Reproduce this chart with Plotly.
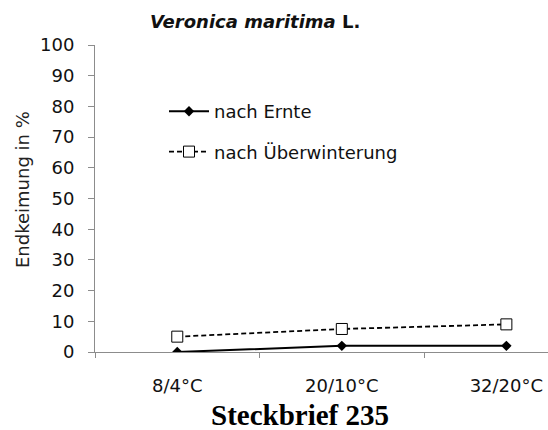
import plotly.graph_objects as go

categories = ["8/4°C", "20/10°C", "32/20°C"]
nach_ernte = [0, 2, 2]
nach_ueberwinterung = [5, 7.5, 9]
y_ticks = [0, 10, 20, 30, 40, 50, 60, 70, 80, 90, 100]

FONT = "DejaVu Sans, Liberation Sans, Arial, sans-serif"

fig = go.Figure()
fig.add_trace(go.Scatter(
    x=categories, y=nach_ernte, name="nach Ernte", mode="lines+markers",
    legendgroup="a",
    line=dict(color="black", width=2),
    marker=dict(symbol="diamond", size=8, color="black"),
))
fig.add_trace(go.Scatter(
    x=categories, y=nach_ueberwinterung, name="nach Überwinterung", mode="lines+markers",
    legendgroup="b",
    line=dict(color="black", width=1.8, dash="5px,3px"),
    marker=dict(symbol="square", size=11, color="white", line=dict(color="black", width=1)),
))

W, H = 548, 430
L, R, T, B = 95, 0, 45, 78
PW, PH = W - L - R, H - T - B

def px_x(x):
    return (x - L) / PW

def px_y(y):
    return 1 - (y - T) / PH

fig.update_layout(
    width=W, height=H,
    margin=dict(l=L, r=R, t=T, b=B),
    paper_bgcolor="white", plot_bgcolor="white",
    font=dict(family=FONT, color="#111", size=18),
    showlegend=True,
    legend=dict(
        x=px_x(164), y=px_y(131.5), xanchor="left", yanchor="middle",
        bgcolor="rgba(0,0,0,0)", font=dict(size=18, color="#111", family=FONT),
        tracegroupgap=14, itemwidth=40,
    ),
    xaxis=dict(
        type="category", range=[-0.5, 2.253],
        showline=True, linecolor="#8c8c8c", linewidth=1,
        ticks="outside", tickson="boundaries", ticklen=5, tickcolor="#8c8c8c",
        showgrid=False, zeroline=False,
        tickfont=dict(size=18, color="#111", family=FONT),
        ticklabelstandoff=17,
    ),
    yaxis=dict(
        range=[0, 100], tickvals=y_ticks,
        showline=True, linecolor="#8c8c8c", linewidth=1,
        ticks="outside", ticklen=6, tickcolor="#8c8c8c",
        showgrid=False, zeroline=False,
        tickfont=dict(size=18, color="#111", family=FONT),
        ticklabelstandoff=10,
    ),
    annotations=[
        dict(text="Endkeimung in %", xref="paper", yref="paper",
             x=px_x(22), y=px_y(190), textangle=-90,
             xanchor="center", yanchor="middle", showarrow=False,
             font=dict(size=18, color="#222", family=FONT)),
        dict(text="<b><i>Veronica maritima</i> L.</b>", xref="paper", yref="paper",
             x=px_x(255), y=px_y(22),
             xanchor="center", yanchor="middle", showarrow=False,
             font=dict(size=18, color="#111", family=FONT)),
        dict(text="<b>Steckbrief 235</b>", xref="paper", yref="paper",
             x=px_x(300), y=px_y(415),
             xanchor="center", yanchor="middle", showarrow=False,
             font=dict(size=29, color="#000", family="Liberation Serif, Times New Roman, serif")),
    ],
)

fig.write_html("out.html", config={"displayModeBar": False},
               post_script="document.body.style.margin='0';document.body.style.overflow='hidden';")
